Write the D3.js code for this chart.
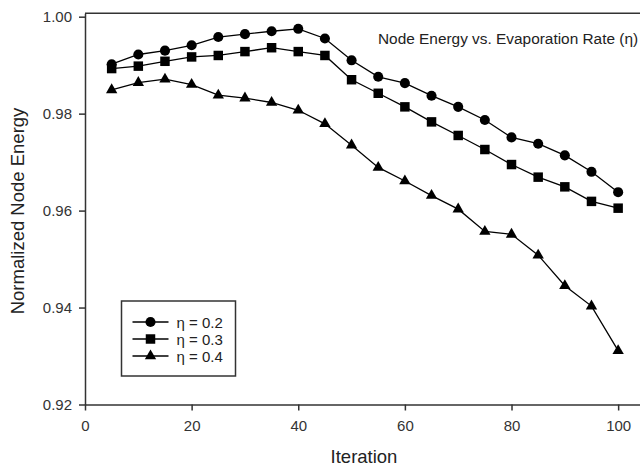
<!DOCTYPE html>
<html>
<head>
<meta charset="utf-8">
<script src="https://cdn.jsdelivr.net/npm/d3@7"></script>
<style>
  body { margin: 0; background: #fff; }
  svg { display: block; font-family: "Liberation Sans", Arial, sans-serif; }
  .axis path, .axis line { stroke: #333; stroke-width: 1.5; }
  .axis text { fill: #333; font-size: 15px; }
</style>
</head>
<body>
<div id="chart-area"></div>
<script>
// data
var iterations = [5, 10, 15, 20, 25, 30, 35, 40, 45, 50, 55, 60, 65, 70, 75, 80, 85, 90, 95, 100];
var eta02 = [0.9902, 0.9922, 0.9930, 0.9941, 0.9958, 0.9964, 0.9970, 0.9975, 0.9955, 0.9910,
             0.9876, 0.9863, 0.9837, 0.9814, 0.9787, 0.9751, 0.9738, 0.9714, 0.9680, 0.9638];
var eta03 = [0.9893, 0.9898, 0.9908, 0.9917, 0.9920, 0.9928, 0.9936, 0.9928, 0.9920, 0.9870,
             0.9842, 0.9814, 0.9783, 0.9755, 0.9726, 0.9695, 0.9669, 0.9649, 0.9619, 0.9605];
var eta04 = [0.9849, 0.9864, 0.9871, 0.9860, 0.9838, 0.9832, 0.9823, 0.9807, 0.9779, 0.9735,
             0.9689, 0.9661, 0.9631, 0.9603, 0.9557, 0.9551, 0.9508, 0.9445, 0.9403, 0.9311];
var seriesNames = ["η = 0.2", "η = 0.3", "η = 0.4"];
var xTicks = [0, 20, 40, 60, 80, 100];
var yTicks = [0.92, 0.94, 0.96, 0.98, 1.00];

var width = 640, height = 468;

var svg = d3.select("#chart-area")
    .append("svg")
        .attr("width", width)
        .attr("height", height);

// Scales
var x = d3.scaleLinear()
    .domain([0, 104.1])
    .range([85, 640]);
var y = d3.scaleLinear()
    .domain([0.92, 1.0007])
    .range([404.5, 13.3]);

var symbols = [d3.symbolCircle, d3.symbolSquare, d3.symbolTriangle];
var symbolSizes = [80, 90, 56];

// frame top
svg.append("line")
    .attr("x1", x(0)).attr("x2", x.range()[1])
    .attr("y1", y.range()[1]).attr("y2", y.range()[1])
    .attr("stroke", "#333")
    .attr("stroke-width", 1.5);

// X Axis
svg.append("g")
    .attr("class", "x axis")
    .attr("transform", "translate(0," + y(0.92) + ")")
    .call(d3.axisBottom(x)
        .tickValues(xTicks)
        .tickSize(6)
        .tickPadding(10)
        .tickSizeOuter(0)
        .tickFormat(d3.format("d")));

// Y Axis
svg.append("g")
    .attr("class", "y axis")
    .attr("transform", "translate(" + x(0) + ",0)")
    .call(d3.axisLeft(y)
        .tickValues(yTicks)
        .tickSize(6)
        .tickPadding(7)
        .tickSizeOuter(0)
        .tickFormat(d3.format(".2f")));

// Labels
svg.append("text")
    .attr("x", 364)
    .attr("y", 463)
    .attr("font-size", "18.5px")
    .attr("text-anchor", "middle")
    .attr("fill", "#222")
    .text("Iteration");

svg.append("text")
    .attr("transform", "rotate(-90)")
    .attr("x", -211)
    .attr("y", 24)
    .attr("font-size", "18.5px")
    .attr("text-anchor", "middle")
    .attr("fill", "#222")
    .text("Normalized Node Energy");

svg.append("text")
    .attr("x", 378)
    .attr("y", 44)
    .attr("font-size", "15.4px")
    .attr("fill", "#222")
    .text("Node Energy vs. Evaporation Rate (η)");

// Lines + markers
var line = d3.line()
    .x(function(d){ return x(d[0]); })
    .y(function(d){ return y(d[1]); });

[eta02, eta03, eta04].forEach(function(vals, i){
    var pts = iterations.map(function(it, j){ return [it, vals[j]]; });

    svg.append("path")
        .datum(pts)
        .attr("fill", "none")
        .attr("stroke", "#000")
        .attr("stroke-width", 1.3)
        .attr("d", line);

    svg.selectAll(".m" + i)
        .data(pts)
        .enter()
        .append("path")
        .attr("class", "m" + i)
        .attr("transform", function(d){ return "translate(" + x(d[0]) + "," + y(d[1]) + ")"; })
        .attr("d", d3.symbol().type(symbols[i]).size(symbolSizes[i]))
        .attr("fill", "#000");
});

// Legend
var legend = svg.append("g")
    .attr("transform", "translate(121.5,301)");

legend.append("rect")
    .attr("width", 114)
    .attr("height", 75)
    .attr("fill", "#fff")
    .attr("stroke", "#333")
    .attr("stroke-width", 1.5);

seriesNames.forEach(function(name, i){
    var row = legend.append("g")
        .attr("transform", "translate(0," + (21 + i * 17) + ")");

    row.append("line")
        .attr("x1", 11).attr("x2", 47)
        .attr("stroke", "#000")
        .attr("stroke-width", 1.3);

    row.append("path")
        .attr("transform", "translate(29,0)")
        .attr("d", d3.symbol().type(symbols[i]).size(symbolSizes[i]))
        .attr("fill", "#000");

    row.append("text")
        .attr("x", 55)
        .attr("y", 5.5)
        .attr("font-size", "15px")
        .attr("fill", "#222")
        .text(name);
});
</script>
</body>
</html>
